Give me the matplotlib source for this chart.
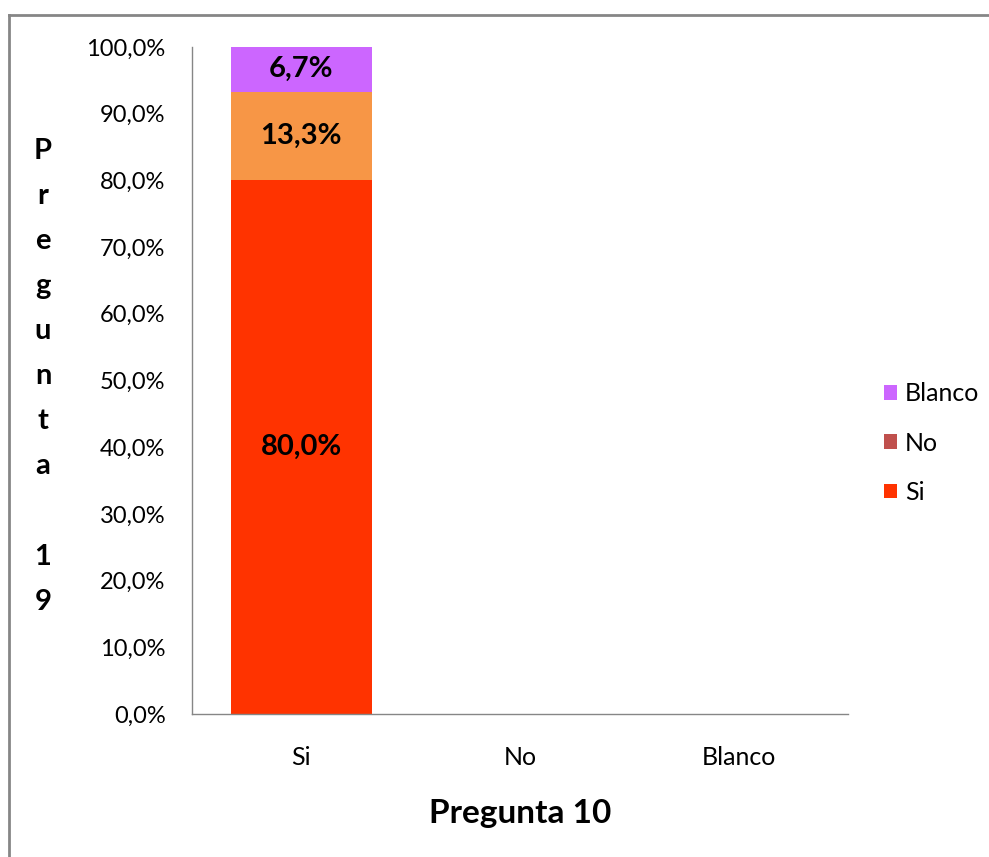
import matplotlib.pyplot as plt
import numpy as np
from matplotlib.patches import Patch
from matplotlib.lines import Line2D

plt.rcParams['font.family'] = ['Lato', 'DejaVu Sans']

categories = ['Si', 'No', 'Blanco']
series_names = ['Si', 'No', 'Blanco']
si_vals = [80.0, 0.0, 0.0]
no_vals = [13.3, 0.0, 0.0]
blanco_vals = [6.7, 0.0, 0.0]
yticks = np.arange(0, 101, 10)

bar_colors = ['#FF3300', '#F79646', '#CC66FF']
legend_colors = ['#FF3300', '#C0504D', '#CC66FF']

fig = plt.figure(figsize=(9.89, 8.57), dpi=100)
ax = fig.add_axes([0.1941, 0.1669, 0.6633, 0.7783])

x = np.arange(len(categories))
bottom = np.zeros(len(categories))
for vals, col in zip([si_vals, no_vals, blanco_vals], bar_colors):
    vals = np.array(vals)
    ax.bar(x, vals, width=0.645, bottom=bottom, color=col)
    for xi, v, b in zip(x, vals, bottom):
        if v > 0:
            ax.text(xi, b + v / 2, f'{v:.1f}%'.replace('.', ','), ha='center', va='center',
                    fontsize=21, fontweight='bold', color='black')
    bottom += vals

ax.set_xlim(-0.5, 2.5)
ax.set_ylim(0, 100)
ax.set_yticks(yticks)
ax.set_yticklabels([f'{v:.1f}%'.replace('.', ',') for v in yticks], fontsize=17)
ax.set_xticks(x)
ax.set_xticklabels(categories, fontsize=18)
ax.tick_params(axis='y', length=0, pad=19)
ax.tick_params(axis='x', length=0, pad=23)
for s in ['top', 'right']:
    ax.spines[s].set_visible(False)
for s in ['left', 'bottom']:
    ax.spines[s].set_color('#868686')
    ax.spines[s].set_linewidth(1)

ax.set_xlabel('Pregunta 10', fontsize=24, fontweight='bold', labelpad=22)

fig.text(43 / 989, 0.561, '\n'.join('Pregunta 19'), ha='center', va='center',
         fontsize=21, fontweight='bold', linespacing=1.91)

handles = [Patch(facecolor=c) for c in legend_colors[::-1]]
leg = fig.legend(handles, series_names[::-1], loc='center left', bbox_to_anchor=(0.871, 0.483),
                 frameon=False, fontsize=18, handlelength=0.52, handleheight=0.52,
                 handletextpad=0.32, labelspacing=1.05)

# outer chart border (only top and left visible)
fig.add_artist(Line2D([9 / 989, 1.0], [1 - 15 / 857, 1 - 15 / 857], color='#868686', lw=2,
                      transform=fig.transFigure))
fig.add_artist(Line2D([9 / 989, 9 / 989], [0.0, 1 - 15 / 857], color='#868686', lw=2,
                      transform=fig.transFigure))

fig.savefig('out.png', dpi=100)
